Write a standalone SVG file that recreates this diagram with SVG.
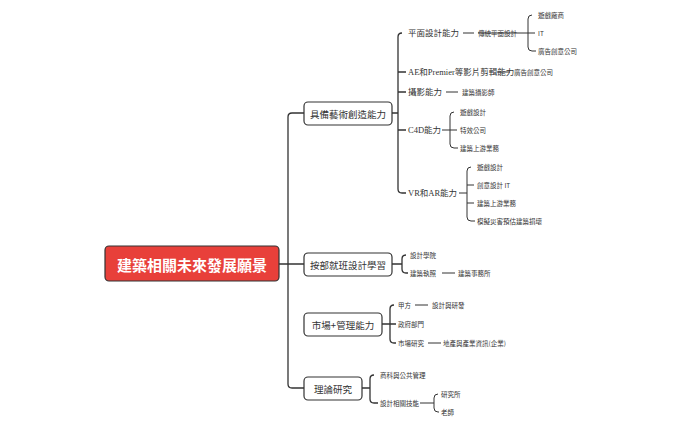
<svg xmlns="http://www.w3.org/2000/svg" width="690" height="427" viewBox="0 0 690 427">
<style>
text{font-family:"Noto Sans CJK TC","Noto Sans CJK SC","Liberation Sans",sans-serif;fill:#333;dominant-baseline:central}
.l1{font-size:9.5px}
.l2{font-size:8.5px;font-family:"Liberation Serif","Noto Sans CJK TC",serif}
.l3{font-size:6.5px}
.box{fill:#fff;stroke:#333;stroke-width:1.2}
.c{fill:none;stroke:#333;stroke-width:1.3}
.t{fill:none;stroke:#333;stroke-width:1}
</style>
<rect width="690" height="427" fill="#fff"/>
<g id="connectors">
<path class="c" d="M279,264 H288 M304,113 H292 Q288,113 288,117 V384 Q288,388 292,388 H304 M288,264 H304"/>
<path class="c" d="M392,113 H398 M402,33 Q398,33 398,37 V189 Q398,193 402,193 H406 M398,72 H406 M398,92 H406 M398,130 H406"/>
<path class="t" d="M463,33 H474 M478,33 H528 M532,15 Q528,15 528,19 V47 Q528,51 532,51 H536 M528,33 H535"/>
<path class="t" d="M497,72 H510 M446,92 H458"/>
<path class="t" d="M442,130 H450 M454,112 Q450,112 450,116 V144 Q450,148 454,148 H458 M450,130 H457"/>
<path class="t" d="M459,193 H467 M471,167 Q467,167 467,171 V217 Q467,221 471,221 H475 M467,185 H474 M467,203 H474"/>
<path class="c" d="M392,264 H402 M406,255 Q402,255 402,259 V269 Q402,273 406,273 H408"/>
<path class="t" d="M442,273 H455"/>
<path class="c" d="M382,324 H390 M394,305 Q390,305 390,309 V339 Q390,343 394,343 H396 M390,324 H396"/>
<path class="t" d="M415,305 H428 M428,343 H441"/>
<path class="c" d="M362,388 H370 M374,375 Q370,375 370,379 V399 Q370,403 374,403 H378"/>
<path class="t" d="M420,403 H434 M438,394 Q434,394 434,398 V408 Q434,412 438,412 H439"/>
</g>
<g id="root"><rect x="105" y="246" width="174" height="35" rx="4" fill="#e8403a" stroke="#333" stroke-width="1.2"/><text x="192" y="264" text-anchor="middle" style="fill:#fff;font-size:15px;font-weight:bold">建築相關未來發展願景</text></g>
<g id="n1"><rect class="box" x="304" y="102" width="88" height="23" rx="4"/><text class="l1" x="348" y="113.5" text-anchor="middle">具備藝術創造能力</text></g>
<g id="n2"><rect class="box" x="304" y="253" width="88" height="23" rx="4"/><text class="l1" x="348" y="264.5" text-anchor="middle">按部就班設計學習</text></g>
<g id="n3"><rect class="box" x="304" y="313" width="78" height="23" rx="4"/><text class="l1" x="343" y="324.5" text-anchor="middle">市場+管理能力</text></g>
<g id="n4"><rect class="box" x="304" y="377" width="58" height="23" rx="4"/><text class="l1" x="333" y="388.5" text-anchor="middle">理論研究</text></g>
<g id="leaves">
<text class="l2" x="408" y="33">平面設計能力</text>
<text class="l2" x="408" y="72">AE和Premier等影片剪輯能力</text>
<text class="l2" x="408" y="92">攝影能力</text>
<text class="l2" x="408" y="130">C4D能力</text>
<text class="l2" x="408" y="193">VR和AR能力</text>
<text class="l3" x="478" y="33">傳統平面設計</text>
<text class="l3" x="538" y="15">遊戲廠商</text>
<text class="l3" x="538" y="33">IT</text>
<text class="l3" x="538" y="51">廣告創意公司</text>
<text class="l3" x="514" y="72">廣告創意公司</text>
<text class="l3" x="462" y="92">建築攝影師</text>
<text class="l3" x="460" y="112">遊戲設計</text>
<text class="l3" x="460" y="130">特效公司</text>
<text class="l3" x="460" y="148">建築上游業務</text>
<text class="l3" x="477" y="167">遊戲設計</text>
<text class="l3" x="477" y="185">創意設計 IT</text>
<text class="l3" x="477" y="203">建築上游業務</text>
<text class="l3" x="477" y="221">模擬災害預估建築損壞</text>
<text class="l3" x="410" y="255">設計學院</text>
<text class="l3" x="410" y="273">建築執照</text>
<text class="l3" x="458" y="273">建築事務所</text>
<text class="l3" x="398" y="305">甲方</text>
<text class="l3" x="432" y="305">設計與研發</text>
<text class="l3" x="398" y="324">政府部門</text>
<text class="l3" x="398" y="343">市場研究</text>
<text class="l3" x="443" y="343">地產與產業資訊(企業)</text>
<text class="l3" x="380" y="375">商科與公共管理</text>
<text class="l3" x="380" y="403">設計相關技能</text>
<text class="l3" x="441" y="394">研究所</text>
<text class="l3" x="441" y="412">老師</text>
</g>
</svg>
